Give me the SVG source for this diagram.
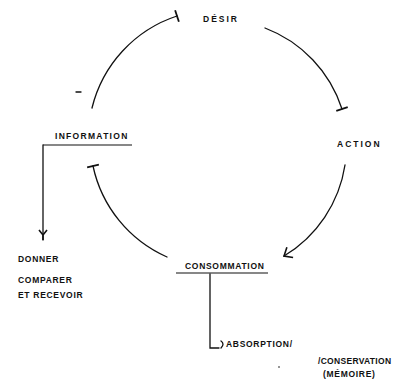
<svg xmlns="http://www.w3.org/2000/svg" width="394" height="388" viewBox="0 0 394 388">
<style>
text{font-family:"Liberation Sans",Arial,sans-serif;font-size:8.5px;font-weight:bold;fill:#111;letter-spacing:0.7px}
.w{letter-spacing:2px}
.c{fill:none;stroke:#111;stroke-width:1.3;stroke-linecap:round}
.u{fill:none;stroke:#111;stroke-width:1.2}
</style>
<defs>
<marker id="tee" markerUnits="userSpaceOnUse" markerWidth="16" markerHeight="16" refX="0" refY="0" viewBox="-8 -8 16 16" orient="auto" overflow="visible">
<path d="M0,-6 L0,6" stroke="#111" stroke-width="1.8" fill="none"/>
</marker>
<marker id="vee" markerUnits="userSpaceOnUse" markerWidth="16" markerHeight="16" refX="0" refY="0" viewBox="-8 -8 16 16" orient="auto" overflow="visible">
<path d="M-7,-6 L0,0 L-7,6" stroke="#111" stroke-width="1.6" fill="none"/>
</marker>
<marker id="yee" markerUnits="userSpaceOnUse" markerWidth="16" markerHeight="16" refX="0" refY="0" viewBox="-8 -8 16 16" orient="auto" overflow="visible">
<path d="M-10,-4 L-5,0 L-10,4 M-5,0 L0,0" stroke="#111" stroke-width="1.6" fill="none"/>
</marker>
</defs>
<g id="connectors">
<path class="c" d="M92 108 A129 129 0 0 1 177 16" marker-end="url(#tee)"/>
<path class="c" d="M265 28 A129 129 0 0 1 342 109" marker-end="url(#tee)"/>
<path class="c" d="M345 165 A129 129 0 0 1 284 256" marker-end="url(#vee)"/>
<path class="c" d="M167 257 A129 129 0 0 1 93 166" marker-end="url(#tee)"/>
<path class="c" d="M43 145 L43 240" marker-end="url(#yee)"/>
<path class="c" d="M210 274 L210 348 L219 348"/>
<path class="c" d="M221 341 Q225 344 221 348"/>
<path class="c" d="M76 92 L81 92"/>
<circle cx="279" cy="367" r="0.8" fill="#111"/>
</g>
<g id="desir"><text class="w" x="203" y="22">DÉSIR</text></g>
<g id="action"><text class="w" x="337" y="147">ACTION</text></g>
<g id="information"><text x="55" y="139" style="letter-spacing:1.3px">INFORMATION</text><path class="u" d="M43 145 H132"/></g>
<g id="consommation"><text x="185" y="269">CONSOMMATION</text><path class="u" d="M176 273 H268"/></g>
<g id="donner"><text x="18" y="262">DONNER</text><text x="18" y="283">COMPARER</text><text x="18" y="298">ET RECEVOIR</text></g>
<g id="absorption"><text x="226" y="347">ABSORPTION/</text><text x="318" y="364" style="letter-spacing:0.3px">/CONSERVATION</text><text x="323" y="377">(MÉMOIRE)</text></g>
</svg>
